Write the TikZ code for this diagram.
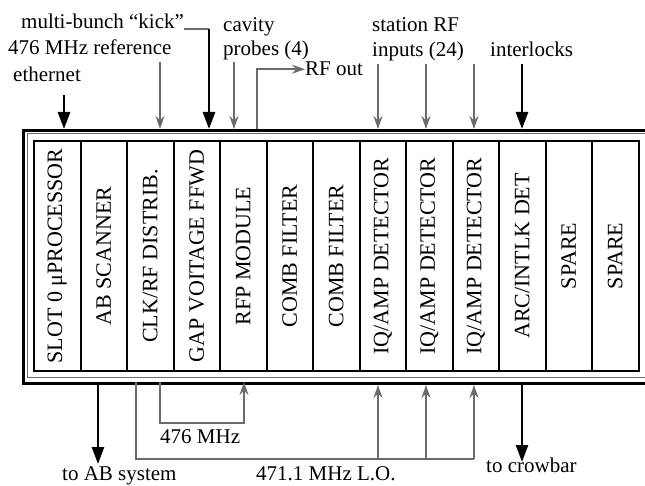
\documentclass[tikz,border=0pt]{standalone}
\usepackage{fontspec}
\setmainfont{Liberation Serif}
\usetikzlibrary{arrows.meta}
\definecolor{sig}{gray}{0.42}
\tikzset{
  lbl/.style={anchor=base west, inner sep=0pt, font=\fontsize{21}{24}\selectfont},
  slotbox/.style={draw, line width=2pt, rotate=90, minimum width=230pt, minimum height=46.5pt, inner sep=0pt, font=\fontsize{22}{24}\selectfont},
  cratebox/.style={draw, line width=3pt, anchor=north west, minimum width=700pt, minimum height=253pt, inner sep=0pt},
  boldarrow/.style={line width=2.6pt, -{Triangle[width=12pt,length=17pt]}},
  finearrow/.style={line width=1.6pt, draw=sig, -{Stealth[width=9pt,length=13pt]}},
  fineline/.style={line width=1.6pt, draw=sig},
}
\begin{document}
\begin{tikzpicture}[x=1pt,y=-1pt]
\useasboundingbox (0,0) rectangle (645,486);
\clip (0,0) rectangle (645,486);
% crate
\node[cratebox] (crate) at (22,129) {};
\draw[sig, line width=0.7pt] (660,133) -- (27,133) -- (27,377) -- (660,377);
% slots
\foreach \t [count=\i] in {SLOT 0 μPROCESSOR, AB SCANNER, CLK/RF DISTRIB., GAP VOITAGE FFWD, RFP MODULE, COMB FILTER, COMB FILTER, IQ/AMP DETECTOR, IQ/AMP DETECTOR, IQ/AMP DETECTOR, ARC/INTLK DET, SPARE, SPARE}
  \node[slotbox] (s\i) at ({34+46.5*(\i-0.5)},256) {\t};
% top labels
\node[lbl] (kick) at (21,29) {multi-bunch “kick”};
\node[lbl] (ref) at (8,55) {476 MHz reference};
\node[lbl] (eth) at (13,82) {ethernet};
\node[lbl] (cav) at (223,32) {cavity};
\node[lbl] (prb) at (223,56) {probes (4)};
\node[lbl] (rfout) at (305,76) {RF out};
\node[lbl] (stn) at (372,32) {station RF};
\node[lbl] (inp) at (372,57) {inputs (24)};
\node[lbl] (ilk) at (490,57) {interlocks};
% bottom labels
\node[lbl] (l476) at (160,443) {476 MHz};
\node[lbl] (tab) at (62,480) {to AB system};
\node[lbl] (llo) at (256,480) {471.1 MHz L.O.};
\node[lbl] (tcb) at (486,472) {to crowbar};
% top connectors
\coordinate (ethS) at (64,95);
\draw[boldarrow] (ethS) -- (ethS |- crate.north);
\coordinate (refS) at (160,62);
\draw[finearrow] (refS) -- (refS |- crate.north);
\coordinate (kickC) at (209,29);
\draw[fineline] (kick.base east) -- (kickC);
\draw[boldarrow] (kickC) -- (kickC |- crate.north);
\coordinate (prbS) at (234,62);
\draw[finearrow] (prbS) -- (prbS |- crate.north);
\coordinate (rfS) at (257,129);
\draw[finearrow] (rfS) |- (rfout.west);
\foreach \x [count=\k] in {378,426,474} {
  \coordinate (stn\k) at (\x,64);
  \draw[finearrow] (stn\k) -- (stn\k |- crate.north);
}
\coordinate (ilkS) at (522,64);
\draw[boldarrow] (ilkS) -- (ilkS |- crate.north);
% bottom connectors
\coordinate (abS) at (98,382);
\coordinate (abE) at (98,464);
\draw[boldarrow] (abS) -- (abE);
\coordinate (m476a) at (160,382);
\coordinate (m476b) at (244,382);
\draw[finearrow] (m476a) -- (160,423) -- (244,423) -- (m476b);
\coordinate (loS) at (136,382);
\coordinate (loE) at (474,459);
\draw[fineline] (loS) |- (loE);
\foreach \x [count=\k] in {378,426,474} {
  \coordinate (lo\k) at (\x,459);
  \draw[finearrow] (lo\k) -- (lo\k |- crate.south);
}
\coordinate (cbS) at (522,382);
\coordinate (cbE) at (522,462);
\draw[boldarrow] (cbS) -- (cbE);
\end{tikzpicture}
\end{document}
